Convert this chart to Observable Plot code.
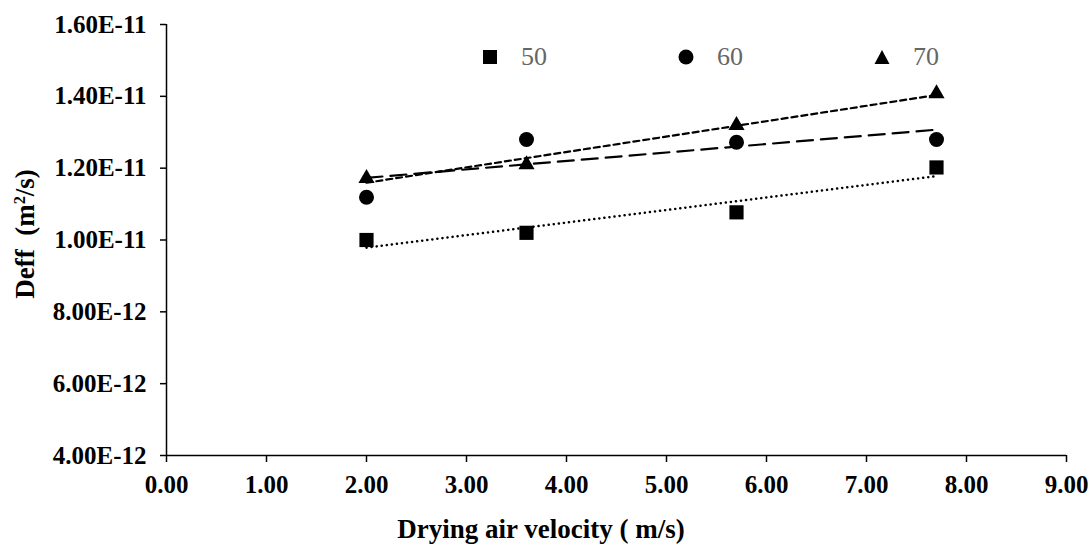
<!DOCTYPE html>
<html>
<head>
<meta charset="utf-8">
<script src="https://cdn.jsdelivr.net/npm/d3@7"></script>
<script src="https://cdn.jsdelivr.net/npm/@observablehq/plot@0.6"></script>
<style>
  html, body { margin: 0; padding: 0; background: white; }
  #wrap { position: relative; width: 1091px; height: 545px; }
  svg text { font-family: "Liberation Serif", "Times New Roman", Times, serif !important; }
  .leg { position: absolute; top: 42px; display: flex; align-items: center;
         font-family: "Liberation Serif", "Times New Roman", Times, serif; font-size: 26px; color: #666; }
  .leg svg { margin-right: 23px; }
  .title { position: absolute; font-family: "Liberation Serif", "Times New Roman", Times, serif;
           font-weight: bold; font-size: 27px; color: black; white-space: nowrap; line-height: 1; }
  .title sup { font-size: 0.6em; vertical-align: 0.55em; line-height: 0; }
  #xtitle { left: 541px; top: 516px; transform: translateX(-50%); }
  #ytitle { left: 25px; top: 234px; transform: translate(-50%, -50%) rotate(-90deg); }
</style>
</head>
<body>
<div id="wrap"></div>
<script>
// Data
const velocity = [2.0, 3.6, 5.7, 7.7];
const deff50 = [1.0e-11, 1.02e-11, 1.077e-11, 1.202e-11];
const deff60 = [1.119e-11, 1.28e-11, 1.272e-11, 1.28e-11];
const deff70 = [1.172e-11, 1.21e-11, 1.319e-11, 1.408e-11];
const seriesNames = ["50", "60", "70"];
const xTicks = [0, 1, 2, 3, 4, 5, 6, 7, 8, 9];
const yTicks = [4e-12, 6e-12, 8e-12, 1.0e-11, 1.2e-11, 1.4e-11, 1.6e-11];
const xTitle = "Drying air velocity ( m/s)";
const yTitleHTML = "Deff&nbsp; (m<sup>2</sup>/s)";

const mk = (ys) => velocity.map((v, i) => ({x: v, y: ys[i]}));
const d50 = mk(deff50), d60 = mk(deff60), d70 = mk(deff70);

const FONT = "'Liberation Serif', 'Times New Roman', Times, serif";

const chart = Plot.plot({
  width: 1091,
  height: 545,
  marginLeft: 166,
  marginRight: 25,
  marginTop: 24,
  marginBottom: 90,
  x: {domain: [0, 9]},
  y: {domain: [4e-12, 1.6e-11]},
  style: {
    fontFamily: FONT,
    fontWeight: "bold",
    fontSize: "25px",
    color: "black",
    background: "white"
  },
  marks: [
    Plot.axisY({
      ticks: yTicks,
      tickFormat: d => d.toExponential(2).toUpperCase(),
      tickSize: 6, tickPadding: 14, strokeWidth: 1.5,
      fontSize: 25, fontWeight: "bold", fontFamily: FONT,
      label: null
    }),
    Plot.axisX({
      ticks: xTicks,
      tickFormat: d => d.toFixed(2),
      tickSize: 7, tickPadding: 13, strokeWidth: 1.5,
      fontSize: 25, fontWeight: "bold", fontFamily: FONT,
      label: null
    }),
    Plot.ruleX([0], {stroke: "black", strokeWidth: 1.5}),
    Plot.ruleY([4e-12], {stroke: "black", strokeWidth: 1.5}),
    Plot.linearRegressionY(d50, {x: "x", y: "y", ci: 0, stroke: "black", strokeWidth: 2.5,
      strokeDasharray: "0.1,5", strokeLinecap: "round"}),
    Plot.linearRegressionY(d60, {x: "x", y: "y", ci: 0, stroke: "black", strokeWidth: 2.2,
      strokeDasharray: "16,8"}),
    Plot.linearRegressionY(d70, {x: "x", y: "y", ci: 0, stroke: "black", strokeWidth: 2.2,
      strokeDasharray: "6,4"}),
    Plot.dot(d50, {x: "x", y: "y", symbol: "square", r: 8, fill: "black", stroke: "none"}),
    Plot.dot(d60, {x: "x", y: "y", symbol: "circle", r: 7.5, fill: "black", stroke: "none"}),
    Plot.dot(d70, {x: "x", y: "y", symbol: "triangle", r: 6, fill: "black", stroke: "none"})
  ]
});

const wrap = document.getElementById("wrap");
wrap.appendChild(chart);

// Axis titles (HTML overlay)
const xt = document.createElement("div");
xt.className = "title"; xt.id = "xtitle"; xt.textContent = xTitle;
wrap.appendChild(xt);
const yt = document.createElement("div");
yt.className = "title"; yt.id = "ytitle"; yt.innerHTML = yTitleHTML;
wrap.appendChild(yt);

// Legend (HTML overlay)
const symbols = {
  "50": '<rect x="1" y="1" width="14" height="14" fill="black"/>',
  "60": '<circle cx="8" cy="8" r="7.5" fill="black"/>',
  "70": '<path d="M8,1 L15.5,15 L0.5,15 Z" fill="black"/>'
};
const legLeft = {"50": 482, "60": 678, "70": 874};
seriesNames.forEach(name => {
  const div = document.createElement("div");
  div.className = "leg";
  div.style.left = legLeft[name] + "px";
  div.innerHTML = '<svg width="16" height="16">' + symbols[name] + '</svg><span>' + name + '</span>';
  wrap.appendChild(div);
});
</script>
</body>
</html>
